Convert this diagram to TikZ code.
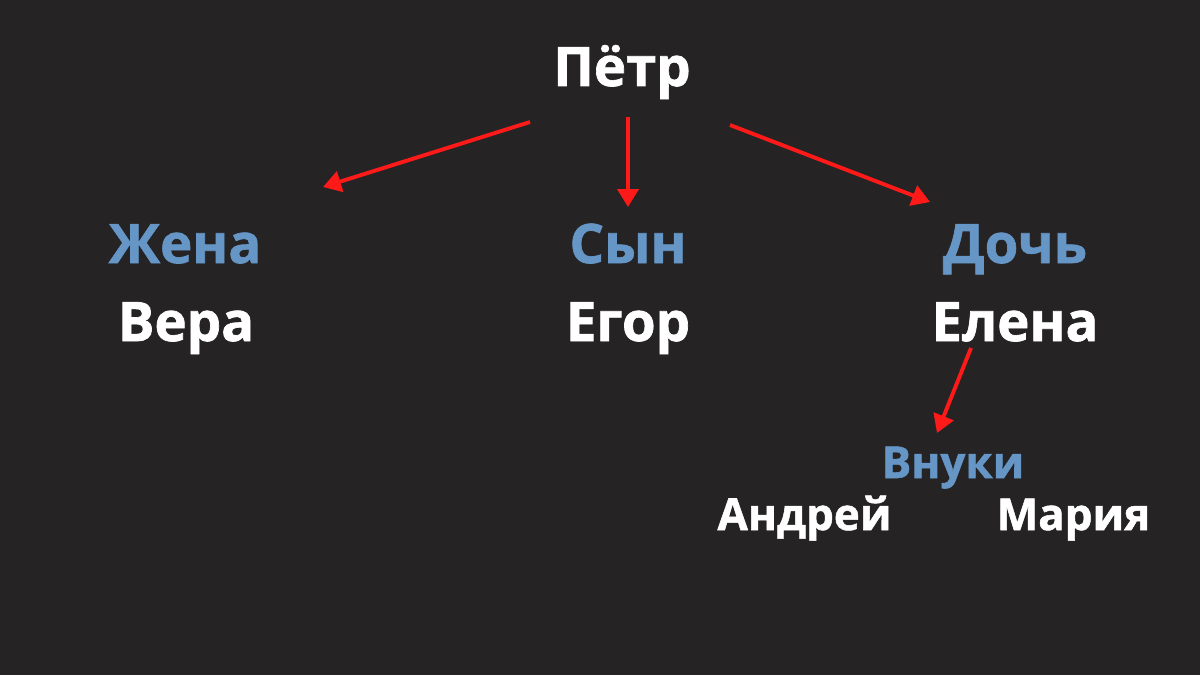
\documentclass[tikz,border=0pt]{standalone}
\usepackage{fontspec}
\setmainfont{Open Sans}[BoldFeatures={FakeBold=1.2}]
\usetikzlibrary{arrows.meta}
\definecolor{bgdark}{HTML}{262324}
\definecolor{relblue}{HTML}{6596C6}
\definecolor{arrred}{HTML}{FF1A1A}

\begin{document}
\begin{tikzpicture}[
    person/.style={anchor=base, text=white, font=\fontsize{31}{36}\selectfont\bfseries, inner sep=0pt},
    rel/.style={anchor=base, text=relblue, font=\fontsize{31}{36}\selectfont\bfseries, inner sep=0pt},
    link/.style={arrred, line width=2.2pt, -{Triangle[length=0.36cm,width=0.42cm]}}
]
    \fill[bgdark] (0,0) rectangle (24,13.5);
    \useasboundingbox (0,0) rectangle (24,13.5);
    \node[person] (petr) at (12.44,11.78) {Пётр};
    \node[rel] (wife) at (3.7,8.24) {Жена};
    \node[person] (vera) at (3.72,6.68) {Вера};
    \node[rel] (son) at (12.56,8.24) {Сын};
    \node[person] (egor) at (12.56,6.68) {Егор};
    \node[rel] (daughter) at (20.3,8.24) {Дочь};
    \node[person] (elena) at (20.3,6.68) {Елена};
    \node[rel, font=\fontsize{25}{29}\selectfont\bfseries] (grand) at (19.06,3.94) {Внуки};
    \node[person, font=\fontsize{25}{29}\selectfont\bfseries] (andrey) at (16.09,2.9) {Андрей};
    \node[person, font=\fontsize{25}{29}\selectfont\bfseries] (maria) at (21.47,2.9) {Мария};
    % arrow ends
    \coordinate (pl) at (10.6,11.06);
    \coordinate (wl) at (6.46,9.76);
    \coordinate (pm) at (12.56,11.16);
    \coordinate (sm) at (12.56,9.36);
    \coordinate (pr) at (14.6,11.0);
    \coordinate (dr) at (18.6,9.46);
    \coordinate (el) at (19.42,6.54);
    \coordinate (gr) at (18.74,4.84);
    \draw[link] (pl) -- (wl);
    \draw[link] (pm) -- (sm);
    \draw[link] (pr) -- (dr);
    \draw[link] (el) -- (gr);
\end{tikzpicture}
\end{document}
